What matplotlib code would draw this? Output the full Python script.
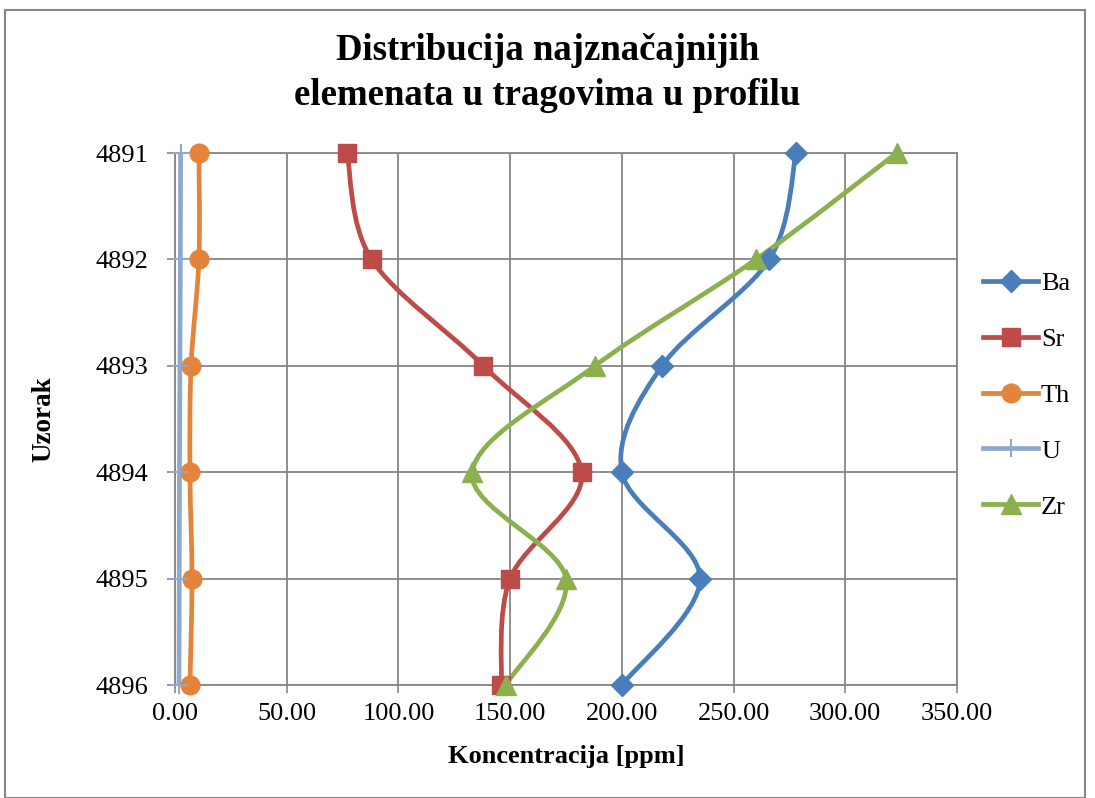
import matplotlib.pyplot as plt
import numpy as np
from matplotlib.path import Path
from matplotlib.patches import PathPatch, Rectangle
from matplotlib.lines import Line2D

plt.rcParams['font.family'] = ['Liberation Serif', 'DejaVu Serif']

# Podaci
uzorci = ['4891', '4892', '4893', '4894', '4895', '4896']
Ba = [278, 266, 218, 200, 235, 200]
Sr = [77, 88, 138, 182, 150, 146]
Th = [10.7, 10.7, 7.2, 6.7, 7.6, 6.7]
U = [2.5, 2.4, 2.2, 2.0, 1.9, 1.8]
Zr = [323, 260, 188, 133, 175, 148]

serije = [
    ('Ba', Ba, '#4A7EBB', 'D', 11.5),
    ('Sr', Sr, '#BE4B48', 's', 13.5),
    ('Th', Th, '#E3843A', 'o', 13.5),
    ('U', U, '#8EA8D0', '+', 13),
    ('Zr', Zr, '#8DB04E', '^', 14),
]


def glatka_putanja(x, y):
    # Excel-like smoothed line (Catmull-Rom as cubic Bezier)
    pts = np.column_stack([x, y]).astype(float)
    n = len(pts)
    verts = [pts[0]]
    codes = [Path.MOVETO]
    for i in range(n - 1):
        p0 = pts[i - 1] if i > 0 else pts[i]
        p1 = pts[i]
        p2 = pts[i + 1]
        p3 = pts[i + 2] if i + 2 < n else pts[i + 1]
        c1 = p1 + (p2 - p0) / 6
        c2 = p2 - (p3 - p1) / 6
        verts += [c1, c2, p2]
        codes += [Path.CURVE4] * 3
    return Path(verts, codes)


fig = plt.figure(figsize=(10.95, 7.98), dpi=100)
ax = fig.add_axes([175 / 1095, 1 - 685 / 798, (957 - 175) / 1095, (685 - 153) / 798])

poz = np.arange(len(uzorci))
rukohvati = []
for ime, vrijednosti, boja, marker, ms in serije:
    ax.add_patch(PathPatch(glatka_putanja(vrijednosti, poz), facecolor='none',
                           edgecolor=boja, lw=3.4, zorder=3, capstyle='round'))
    mew = 1.5 if marker == '+' else 1
    ax.plot(vrijednosti, poz, linestyle='none', marker=marker, ms=ms,
            color=boja, mec=boja, mew=mew, zorder=4, clip_on=False)
    rukohvati.append(Line2D([], [], color=boja, lw=3.4, marker=marker, ms=ms,
                            mec=boja, mew=mew, label=ime))

ax.set_xlim(0, 350)
ax.set_ylim(len(uzorci) - 1, 0)
ax.set_xticks(np.arange(0, 351, 50))
ax.set_xticklabels([f'{v:.2f}' for v in np.arange(0, 351, 50)])
ax.set_yticks(poz)
ax.set_yticklabels(uzorci)
ax.tick_params(labelsize=19, color='#868686', length=6, width=1.2)
ax.tick_params(axis='x', pad=7)
ax.tick_params(axis='y', pad=13)
ax.grid(True, color='#868686', lw=1.3, zorder=1)
ax.set_axisbelow(True)
for s in ax.spines.values():
    s.set_color('#868686')
    s.set_linewidth(1.3)

ax.set_xlabel('Koncentracija [ppm]', fontsize=19, fontweight='bold')
ax.set_ylabel('Uzorak', fontsize=19.5, fontweight='bold')
ax.xaxis.set_label_coords(0.5, (685 - 757) / 532)
ax.xaxis.label.set_va('center')
ax.yaxis.set_label_coords((44 - 175) / 782, 0.5)
ax.yaxis.label.set_va('center')

fig.text(0.5, 1 - 73 / 798, 'Distribucija najznačajnijih\nelemenata u tragovima u profilu',
         ha='center', va='center', fontsize=26.5, fontweight='bold', linespacing=1.38)

fig.legend(handles=rukohvati, loc='center left', bbox_to_anchor=(983 / 1095, 1 - 395 / 798),
           frameon=False, fontsize=19, labelspacing=1.23, handlelength=2.1,
           handletextpad=0.1, borderpad=0, borderaxespad=0)

fig.add_artist(Rectangle((5 / 1095, 0), 1080 / 1095, 1 - 10 / 798, transform=fig.transFigure,
                         fill=False, edgecolor='#868686', lw=1.5))

fig.savefig('out.png', dpi=100)
